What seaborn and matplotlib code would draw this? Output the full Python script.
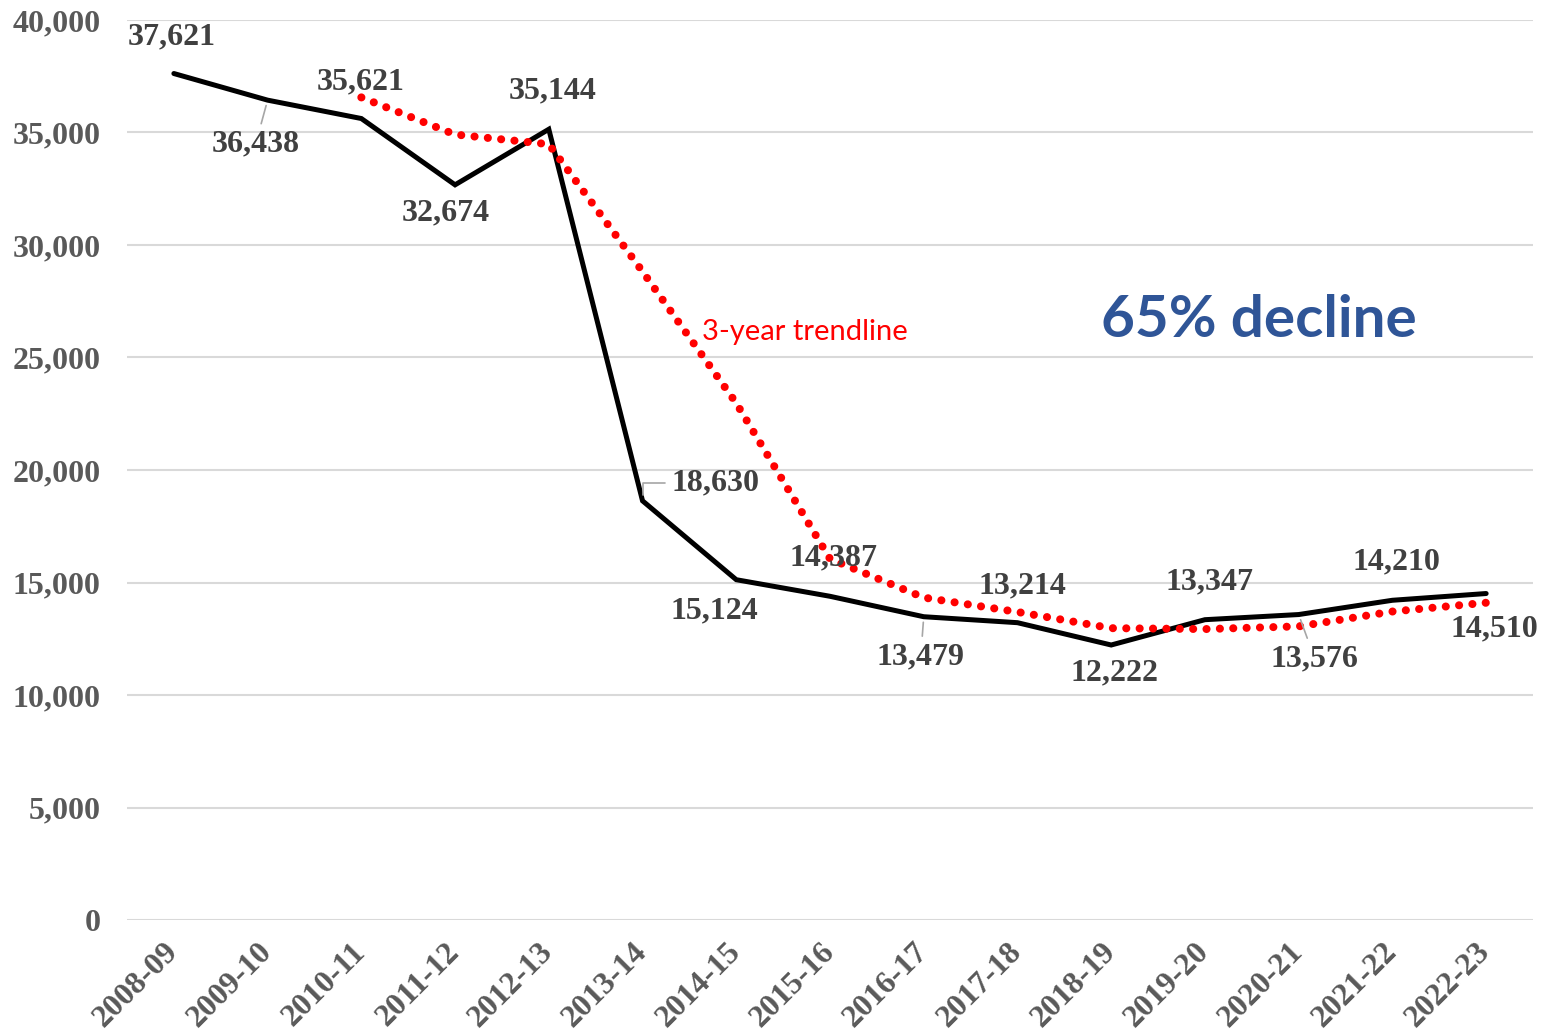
import numpy as np
import pandas as pd
import seaborn as sns
import matplotlib.pyplot as plt
from matplotlib.ticker import FuncFormatter

years = ['2008-09', '2009-10', '2010-11', '2011-12', '2012-13', '2013-14', '2014-15',
         '2015-16', '2016-17', '2017-18', '2018-19', '2019-20', '2020-21', '2021-22', '2022-23']
values = [37621, 36438, 35621, 32674, 35144, 18630, 15124, 14387,
          13479, 13214, 12222, 13347, 13576, 14210, 14510]
# 3-year trendline (starts at 2010-11)
trend_years = years[2:]
trend_values = [36560, 34910, 34480, 28820, 22970, 16050, 14330,
                13690, 12970, 12930, 13050, 13710, 14100]

# label offsets in pixels (dx, dy) and whether a leader line is drawn
label_offsets = [(-2, 37), (-12, -44), (-1, 37), (-9, -28), (4, 38), (73, 18), (-22, -31),
                 (4, 38), (-3, -40), (5, 37), (3, -28), (5, 38), (16, -44), (4, 38), (8, -35)]
leaders = {1: 'arc3', 5: 'angle,angleA=0,angleB=90,rad=0', 8: 'arc3', 12: 'arc3'}

df = pd.DataFrame({'pos': np.arange(len(years)), 'value': values})
trend = pd.DataFrame({'pos': [years.index(y) for y in trend_years], 'value': trend_values})

sns.set_theme(style='white')
plt.rcParams['font.family'] = ['Liberation Serif', 'DejaVu Serif']

fig = plt.figure(figsize=(15.48, 10.36), dpi=100)
ax = fig.add_axes([127 / 1548, 1 - 920 / 1036, (1533 - 127) / 1548, 900 / 1036])

sns.lineplot(data=trend, x='pos', y='value', ax=ax, color='#ff0000', linewidth=5.8,
             linestyle=(0, (0.01, 1.65)), dash_capstyle='round', zorder=3)
sns.lineplot(data=df, x='pos', y='value', ax=ax, color='black', linewidth=3.6,
             solid_joinstyle='miter', zorder=2)

ax.set_xlim(-0.5, len(years) - 0.5)
ax.set_ylim(0, 40000)
ax.set_yticks(np.arange(0, 40001, 5000))
ax.yaxis.set_major_formatter(FuncFormatter(lambda v, p: f'{int(v):,}'))
ax.set_xticks(df['pos'])
ax.set_xticklabels(years)
ax.grid(axis='y', color='#d9d9d9', linewidth=1.5)
ax.set_axisbelow(True)
for s in ax.spines.values():
    s.set_visible(False)
ax.tick_params(axis='y', length=0, pad=19, labelsize=23, labelcolor='#595959')
ax.tick_params(axis='x', length=0, pad=20, labelsize=23, labelcolor='#595959')
for t in ax.get_yticklabels() + ax.get_xticklabels():
    t.set_fontweight('bold')
for t in ax.get_xticklabels():
    t.set_rotation(45)
    t.set_ha('right')
    t.set_va('center')
    t.set_rotation_mode('anchor')
ax.set_xlabel('')
ax.set_ylabel('')

for i, (p, v) in enumerate(zip(df['pos'], df['value'])):
    dx, dy = label_offsets[i]
    kw = {}
    if i in leaders:
        kw['arrowprops'] = dict(arrowstyle='-', color='#a6a6a6', lw=1.2,
                                shrinkA=2, shrinkB=4, connectionstyle=leaders[i])
    ax.annotate(f'{v:,}', xy=(p, v), xytext=(dx, dy), textcoords='offset pixels',
                ha='center', va='center', fontsize=23, fontweight='bold',
                color='#404040', zorder=4, **kw)

ax.text(6.73, 26120, '3-year trendline', color='#ff0000', fontsize=21,
        family=['Lato', 'DejaVu Sans'], ha='center', va='center')
ax.text(11.58, 26630, '65% decline', color='#2f5597', fontsize=42, fontweight='bold',
        family=['Lato', 'DejaVu Sans'], ha='center', va='center')

plt.savefig('out.png', dpi=100)
